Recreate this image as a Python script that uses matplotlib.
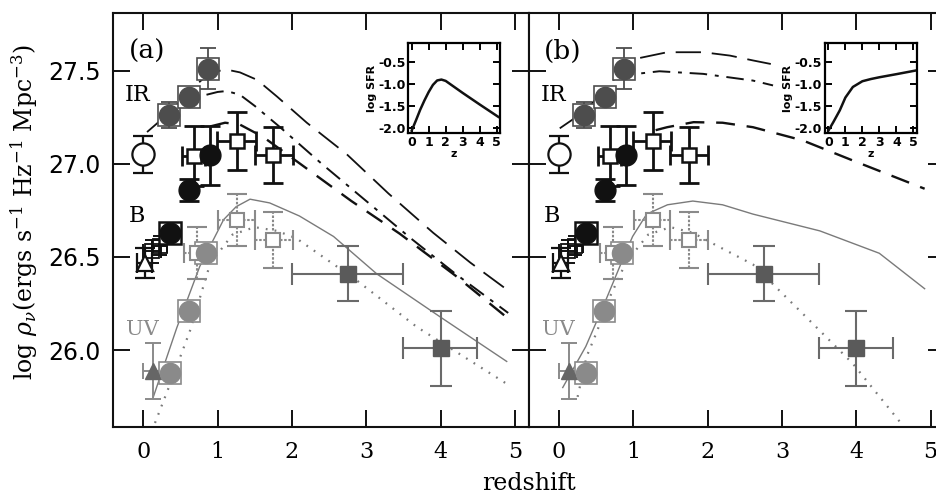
import matplotlib
matplotlib.use('Agg')
import matplotlib.pyplot as plt

plt.rcParams['mathtext.fontset'] = 'dejavuserif'

# ---------------- data ----------------
# IR points (dark gray circles on dotted squares)
ir_z = [0.34, 0.62, 0.875]
ir_v = [27.26, 27.36, 27.51]
ir_err = [0.07, 0.05, 0.11]

# open circle (local IR)
oc_z = [0.0]
oc_v = [27.05]
oc_err = [0.10]

# B band black filled circles
bf_z = [0.36, 0.62, 0.90]
bf_v = [26.63, 26.86, 27.045]
bf_err = [0.05, 0.06, 0.16]

# black open squares
bo_z = [0.68, 1.26, 1.75]
bo_v = [27.04, 27.12, 27.045]
bo_xlo = [0.16, 0.27, 0.25]
bo_xhi = [0.15, 0.25, 0.26]
bo_err = [0.16, 0.155, 0.15]

# low-z B cluster
bt_z = [0.02]
bt_v = [26.47]
bt_err = [0.08]
bs_z = [0.12, 0.22]
bs_v = [26.53, 26.56]
bs_xerr = [0.12, 0.10]
bs_err = [0.06, 0.05]

# UV gray circles (on dotted squares)
uc_z = [0.36, 0.61, 0.85]
uc_v = [25.88, 26.21, 26.52]

# UV gray triangle
ut_z = [0.13]
ut_v = [25.89]
ut_xerr = [0.13]
ut_err = [0.15]

# UV gray open squares
uo_z = [0.72, 1.26, 1.75]
uo_v = [26.52, 26.70, 26.59]
uo_xlo = [0.17, 0.25, 0.25]
uo_xhi = [0.15, 0.24, 0.26]
uo_err = [0.14, 0.14, 0.15]

# high-z dark gray squares
hz_z = [2.76, 4.0]
hz_v = [26.41, 26.01]
hz_xlo = [0.76, 0.50]
hz_xhi = [0.74, 0.49]
hz_ylo = [0.146, 0.20]
hz_yhi = [0.15, 0.20]

# ---- model curves, panel (a)
a_ld_z = [0.05, 0.34, 0.62, 0.9, 1.12, 1.3, 1.53, 1.8, 2.2, 2.74, 3.3, 3.9, 4.4, 4.91]
a_ld_v = [27.17, 27.27, 27.39, 27.49, 27.505, 27.49, 27.45, 27.36, 27.22, 27.05, 26.84, 26.63, 26.47, 26.32]
a_dd_z = [0.85, 1.0, 1.12, 1.3, 1.5, 1.84, 2.4, 3.0, 3.6, 4.2, 4.91]
a_dd_v = [27.37, 27.385, 27.39, 27.37, 27.31, 27.196, 27.0, 26.80, 26.60, 26.41, 26.20]
a_sd_z = [0.9, 1.1, 1.3, 1.615, 2.11, 2.8, 3.45, 4.2, 4.91]
a_sd_v = [27.2, 27.22, 27.21, 27.143, 27.0, 26.80, 26.625, 26.40, 26.17]
a_so_z = [0.135, 0.45, 0.76, 1.08, 1.25, 1.436, 1.7, 2.1, 2.56, 3.14, 3.99, 4.89]
a_so_v = [25.75, 26.12, 26.45, 26.70, 26.77, 26.81, 26.79, 26.72, 26.61, 26.41, 26.18, 25.94]
a_dt_z = [0.157, 0.4, 0.63, 0.9, 1.2, 1.5, 1.8, 2.06, 2.87, 3.68, 4.89]
a_dt_v = [25.61, 25.86, 26.107, 26.465, 26.62, 26.66, 26.64, 26.60, 26.375, 26.125, 25.82]

# ---- model curves, panel (b)
b_ld_z = [0.01, 0.34, 0.62, 0.9, 1.0, 1.455, 1.94, 2.3, 2.61, 2.85]
b_ld_v = [27.19, 27.28, 27.40, 27.52, 27.56, 27.598, 27.598, 27.58, 27.554, 27.535]
b_dd_z = [0.77, 1.0, 1.35, 1.94, 2.61, 2.88]
b_dd_v = [27.464, 27.48, 27.496, 27.482, 27.446, 27.42]
b_sd_z = [1.3, 1.455, 1.81, 2.2, 2.61, 3.28, 3.95, 4.92]
b_sd_v = [27.18, 27.196, 27.223, 27.22, 27.196, 27.125, 27.018, 26.866]
b_so_z = [0.05, 0.36, 0.61, 0.85, 0.99, 1.18, 1.46, 1.8, 2.2, 2.61, 3.51, 4.31, 4.92]
b_so_v = [25.80, 26.02, 26.25, 26.48, 26.61, 26.73, 26.78, 26.80, 26.78, 26.73, 26.64, 26.52, 26.33]
b_dt_z = [0.25, 0.37, 0.5, 0.7, 0.9, 1.2, 1.5, 1.8, 2.08, 2.61, 3.28, 3.95, 4.66]
b_dt_v = [25.75, 25.965, 26.09, 26.30, 26.47, 26.62, 26.66, 26.63, 26.57, 26.46, 26.196, 25.93, 25.58]

# ---- insets (log SFR vs z)
ia_z = [0, 0.25, 0.5, 0.75, 1.0, 1.25, 1.5, 1.75, 2.0, 3.0, 4.0, 5.1]
ia_v = [-2.05, -1.82, -1.58, -1.37, -1.18, -1.02, -0.92, -0.90, -0.93, -1.20, -1.46, -1.74]
ib_z = [0, 0.3, 0.67, 1.0, 1.44, 2.0, 2.5, 3.0, 4.0, 5.1]
ib_v = [-2.05, -1.85, -1.59, -1.30, -1.06, -0.93, -0.88, -0.84, -0.77, -0.69]

xticks = [0, 1, 2, 3, 4, 5]
yticks = [26.0, 26.5, 27.0, 27.5]
ytlabels = ['26.0', '26.5', '27.0', '27.5']
in_yticks = [-2.0, -1.5, -1.0, -0.5]
in_ytlabels = ['-2.0', '-1.5', '-1.0', '-0.5']

BLACK = '#111111'
IRG = '#4d4d4d'
UVG = '#8a8a8a'
HZG = '#5a5a5a'

W, H = 937, 501
fig = plt.figure(figsize=(W / 100, H / 100), dpi=100)

L, R, T, B = 113.3, 529.0, 12.7, 426.7
pw = R - L
axA = fig.add_axes([L / W, 1 - B / H, pw / W, (B - T) / H])
axB = fig.add_axes([R / W, 1 - B / H, pw / W, (B - T) / H])


def style(ax, labels):
    ax.set_xlim(-0.404, 5.19)
    ax.set_ylim(25.59, 27.81)
    ax.set_xticks(xticks)
    ax.set_xticklabels([str(t) for t in xticks], family='DejaVu Serif', fontsize=16)
    ax.set_yticks(yticks)
    if labels:
        ax.set_yticklabels(ytlabels, family='DejaVu Sans', fontsize=17)
    else:
        ax.set_yticklabels([])
    ax.tick_params(direction='in', length=12, width=1.4, top=True, right=True,
                   color=BLACK)
    ax.tick_params(axis='x', pad=10)
    ax.tick_params(axis='y', pad=9)
    for s in ax.spines.values():
        s.set_linewidth(1.5)
        s.set_color(BLACK)


def points(ax):
    kw = dict(linestyle='none', zorder=5)
    # IR squares + circles
    ax.errorbar(ir_z, ir_v, yerr=ir_err, fmt='none', ecolor=IRG, elinewidth=1.3,
                capsize=6, capthick=1.3, zorder=3)
    ax.plot(ir_z, ir_v, marker='s', ms=16.5, mfc='white', mec=IRG, mew=1.2, **kw)
    ax.plot(ir_z, ir_v, marker='o', ms=14.5, mfc=IRG, mec=IRG, **kw)
    # open circle
    ax.errorbar(oc_z, oc_v, yerr=oc_err, fmt='none', ecolor=BLACK, elinewidth=1.6,
                capsize=7, capthick=1.6, zorder=3)
    ax.plot(oc_z, oc_v, marker='o', ms=16, mfc='white', mec=BLACK, mew=1.6, **kw)
    # black open squares
    ax.errorbar(bo_z, bo_v, xerr=[bo_xlo, bo_xhi], yerr=bo_err, fmt='none',
                ecolor=BLACK, elinewidth=2.0, capsize=7, capthick=2.0, zorder=3)
    ax.plot(bo_z, bo_v, marker='s', ms=10.5, mfc='white', mec=BLACK, mew=1.8, **kw)
    # low-z B cluster
    ax.errorbar(bs_z, bs_v, xerr=bs_xerr, yerr=bs_err, fmt='none', ecolor=BLACK,
                elinewidth=1.4, capsize=5, capthick=1.4, zorder=3)
    ax.plot(bs_z, bs_v, marker='s', ms=10, mfc='none', mec=BLACK, mew=1.3, **kw)
    ax.errorbar(bt_z, bt_v, yerr=bt_err, xerr=[0.1], fmt='none', ecolor=BLACK,
                elinewidth=1.6, capsize=7, capthick=1.6, zorder=3)
    ax.plot(bt_z, bt_v, marker='^', ms=12, mfc='white', mec=BLACK, mew=1.6, **kw)
    # black filled circles (with square behind the low-z one)
    ax.errorbar(bf_z, bf_v, yerr=bf_err, fmt='none', ecolor=BLACK, elinewidth=2.0,
                capsize=7, capthick=2.0, zorder=3)
    ax.plot(bf_z[:1], bf_v[:1], marker='s', ms=16, mfc='white', mec=BLACK, mew=1.8, **kw)
    ax.plot(bf_z, bf_v, marker='o', ms=15, mfc=BLACK, mec=BLACK, **kw)
    # UV gray open squares
    eb = ax.errorbar(uo_z, uo_v, xerr=[uo_xlo, uo_xhi], yerr=uo_err, fmt='none',
                     ecolor=UVG, elinewidth=1.5, capsize=7, capthick=1.5, zorder=3)
    for lc in eb[2]:
        lc.set_linestyle((0, (1.2, 0.8)))
    ax.plot(uo_z, uo_v, marker='s', ms=10.5, mfc='white', mec=UVG, mew=1.5, **kw)
    # UV triangle
    ax.errorbar(ut_z, ut_v, xerr=ut_xerr, yerr=ut_err, fmt='none', ecolor=UVG,
                elinewidth=1.4, capsize=6, capthick=1.4, zorder=3)
    ax.plot(ut_z, ut_v, marker='^', ms=11, mfc='#666666', mec='#666666', **kw)
    # UV circles on squares
    ax.plot(uc_z, uc_v, marker='s', ms=15.5, mfc='white', mec=UVG, mew=1.2,
            linestyle='none', zorder=4)
    ax.plot(uc_z, uc_v, marker='o', ms=14.5, mfc=UVG, mec=UVG, **kw)
    # high-z squares
    ax.errorbar(hz_z, hz_v, xerr=[hz_xlo, hz_xhi], yerr=[hz_ylo, hz_yhi],
                fmt='none', ecolor='#6a6a6a', elinewidth=1.5, capsize=8,
                capthick=1.5, zorder=3)
    ax.plot(hz_z, hz_v, marker='s', ms=11.5, mfc=HZG, mec=HZG, **kw)


def curves(ax, ld, dd, sd, so, dt):
    ax.plot(*ld, color=BLACK, lw=1.3, dashes=(14, 6), zorder=2)
    ax.plot(*dd, color=BLACK, lw=1.4, dashes=(9, 4, 2, 4), zorder=2)
    ax.plot(*sd, color=BLACK, lw=1.7, dashes=(8, 5), zorder=2)
    ax.plot(*so, color='#7a7a7a', lw=1.0, zorder=2)
    ax.plot(*dt, color='#7a7a7a', lw=1.6, dashes=(0.8, 3.2), zorder=2)


def texts(ax, tag):
    ax.text(-0.2, 27.6, tag, fontsize=19, family='DejaVu Serif', va='center',
            ha='left', zorder=6)
    ax.text(-0.25, 27.37, 'IR', fontsize=16, family='DejaVu Serif', va='center',
            ha='left', zorder=6)
    ax.text(-0.2, 26.72, 'B', fontsize=16, family='DejaVu Serif', va='center',
            ha='left', zorder=6)
    ax.text(-0.23, 26.11, 'UV', fontsize=15, family='DejaVu Serif', va='center',
            ha='left', color=UVG, zorder=6)


style(axA, True)
style(axB, False)
curves(axA, (a_ld_z, a_ld_v), (a_dd_z, a_dd_v), (a_sd_z, a_sd_v),
       (a_so_z, a_so_v), (a_dt_z, a_dt_v))
curves(axB, (b_ld_z, b_ld_v), (b_dd_z, b_dd_v), (b_sd_z, b_sd_v),
       (b_so_z, b_so_v), (b_dt_z, b_dt_v))
points(axA)
points(axB)
texts(axA, '(a)')
texts(axB, '(b)')


def inset(x0, x1, y0, y1, z, v):
    ax = fig.add_axes([x0 / W, 1 - y1 / H, (x1 - x0) / W, (y1 - y0) / H])
    ax.plot(z, v, color=BLACK, lw=1.8)
    ax.set_xlim(-0.2, 5.2)
    ax.set_ylim(-2.11, -0.07)
    ax.set_xticks(xticks)
    ax.set_xticklabels([str(t) for t in xticks], fontsize=9, fontweight='bold')
    ax.set_yticks(in_yticks)
    ax.set_yticklabels(in_ytlabels, fontsize=9, fontweight='bold')
    ax.tick_params(direction='in', length=5, width=1.4, top=True, right=True, pad=2)
    ax.set_xlabel('z', fontsize=8, fontweight='bold', labelpad=0)
    ax.set_ylabel('log SFR', fontsize=8, fontweight='bold', labelpad=1)
    for s in ax.spines.values():
        s.set_linewidth(1.6)
    return ax


inset(408.3, 500.0, 42.7, 133.3, ia_z, ia_v)
inset(825.0, 916.7, 43.3, 133.3, ib_z, ib_v)

fig.text(529 / W, 1 - 484 / H, 'redshift', ha='center', va='center',
         family='DejaVu Serif', fontsize=17)
fig.text(24 / W, 1 - 212 / H,
         r'log $\rho_\nu$(ergs s$^{-1}$ Hz$^{-1}$ Mpc$^{-3}$)',
         rotation=90, ha='center', va='center', family='DejaVu Serif', fontsize=17)

fig.savefig('out.png', dpi=100)
